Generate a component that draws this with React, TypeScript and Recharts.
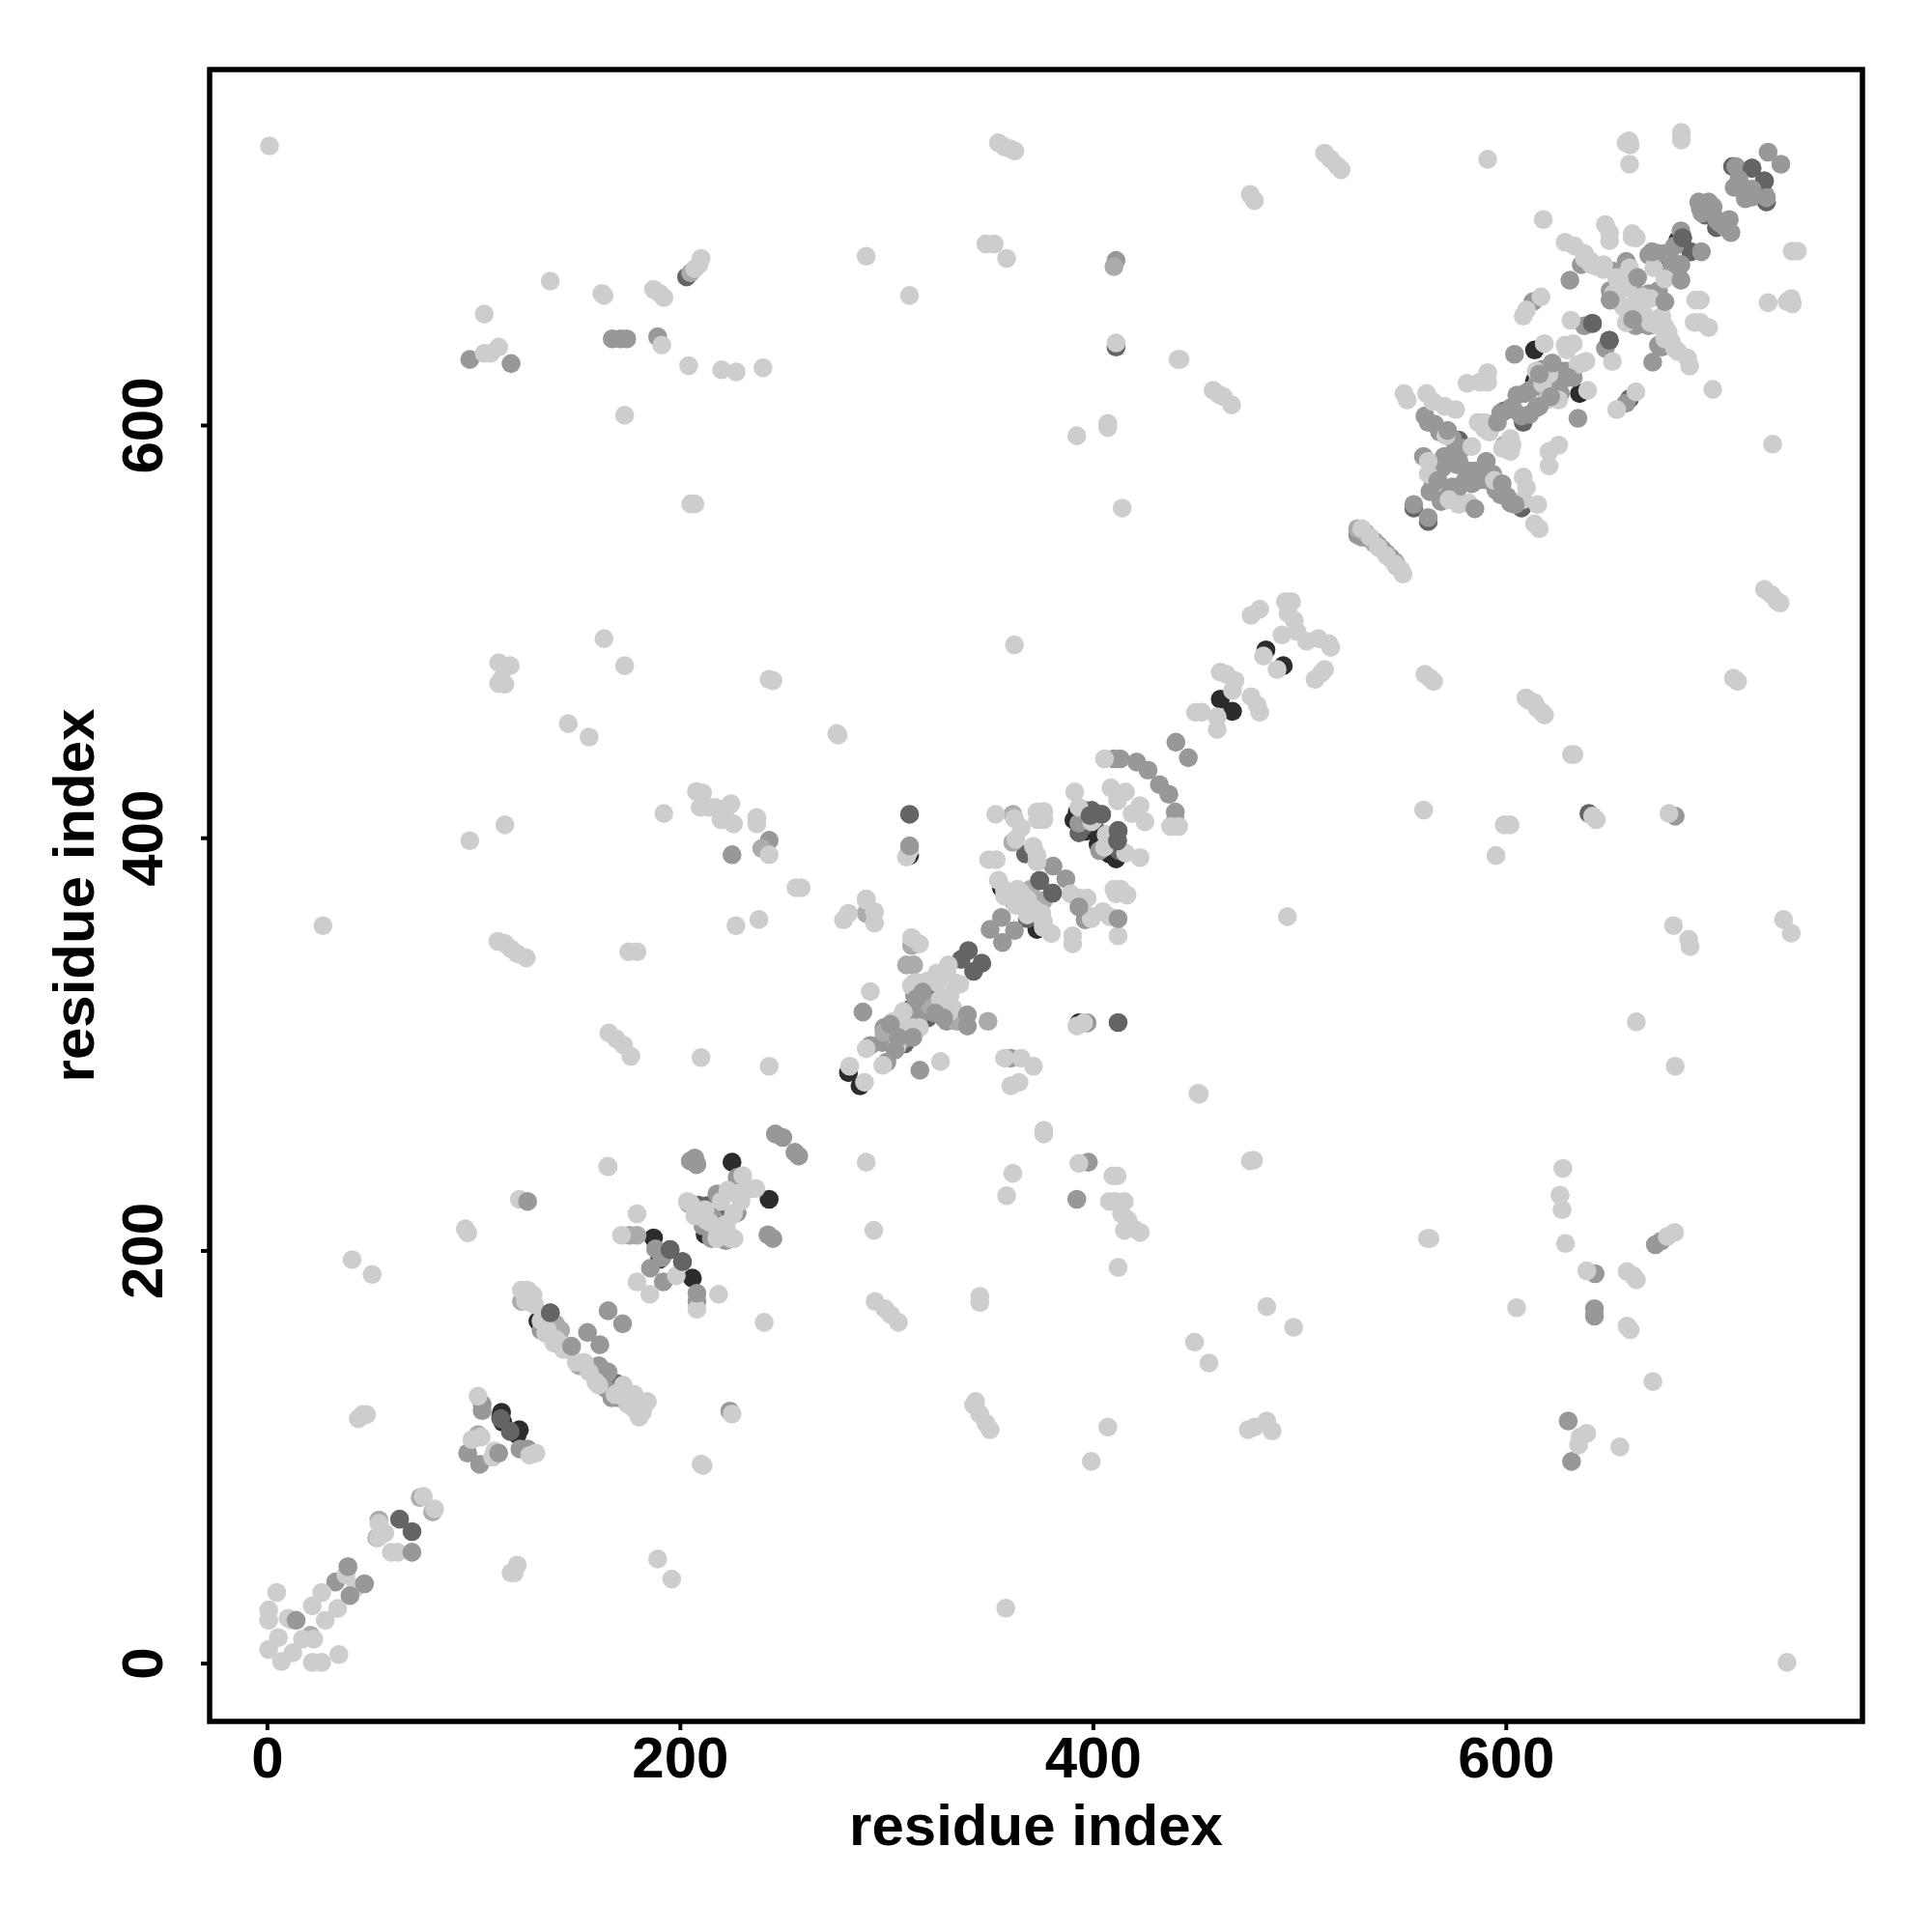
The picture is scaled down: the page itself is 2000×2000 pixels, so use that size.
import React from "react";
import { ScatterChart, Scatter, XAxis, YAxis, ReferenceArea } from "recharts";

const tickValues = [0, 200, 400, 600];
const axisTitle = "residue index";

const blackPairs: number[][] = [
  [113.4,121.8],[113,120],[114,117],[122,113.3],[121,111],[131,166],[165,135.8],[187,206.3],[205.8,186.8],[190,196],[225,243],[243,225],
  [281.4,286.4],[287,280],[311,391.7],[355.5,376],[372.7,355.8],[393,310.5],[394.5,411],[398.4,404],[392,409],[404.6,398],[407.8,392.4],[411,390],
  [483.6,491.3],[492,483.6],[613.7,636.6],[613.7,621.7],[635.5,615.5],[683,689.6],[673.7,680],[461.5,467.4],[467.4,461.5],[212,208],
  [392.2,412.7],[395.3,413.5],[390.6,408.8],[396,403.4],[401.5,403.4],[402.3,397.1],[409.3,394],[405.4,394],
];
const darkPairs: number[][] = [
  [64,70],[70,64],[113,118.7],[117.6,112.5],[137,170],[195,200.6],[201,194.8],[169,135.8],[218,208],[213,222],[208.7,222.2],[217.7,223.1],[223,216.8],
  [311,411.6],[339.5,345.6],[336,341.3],[346,339.4],[342,335.5],[308.7,300.4],[311.9,317.6],[320.4,327],[325.6,320.4],[319.7,312.9],
  [374,379.5],[380.2,373.4],[361.8,369],[368,361],[367.2,392.4],[398.4,411],[404,411.6],[399.2,413.5],[394.5,405],[393,402.6],[407,397.1],[412.4,394],[412,403.7],[411.7,398.7],[412,310.7],
  [685.4,691],[689.3,684.2],[678.4,674.8],[641.7,649.5],[649.9,641.3],[719,724.7],[725,718.5],[709.6,725.5],[726,708.3],[625.4,617],[598.9,607],[608.2,601.5],
  [577,592.9],[588,575],[555.2,560],[562.2,553.5],[607.4,560],[696.3,702],[701.8,695.9],[659.7,613],[640,412],[411,638],[203,672],
];
const midPairs: number[][] = [
  [98,632],[118,630],[167,642],[171,642],[174,642],[189,643],[411,680],[33,39.6],[104,125.7],[104,122.6],[97,102],[102.8,96.6],[122.3,104],[126,104],
  [155,160.5],[161,154.5],[165,171],[172,164.7],[160.5,144.4],[163.7,139.7],[166.8,128.8],[207,245],[208,242],[191.7,185],[185.5,191.7],[188,201],[191,196.7],[208,175.6],
  [146.5,152.2],[165,141.3],[163.7,133.5],[170,128.8],[132.5,161.6],
  [204.8,243.6],[207.8,241.8],[246,256.7],[249.6,255],[255.5,247.8],[257.3,246],[242.4,207.8],[244.8,206],[204,223],[210,220],[216,216],[211,212],[216,210],[222,205],[226,218],[219.7,225.7],[224,122.4],[225,392],[243,399],
  [207,220.4],[210.5,217],[217.7,227.6],[227.5,218.6],[216,213.3],[219.5,209.7],[215,206],[227.5,235.6],
  [288.4,315.8],[292,299.6],[300,291.5],[316,287.6],[305,306],
  [313.4,323.8],[315.8,320.7],[318,322.2],[318.9,317.6],[321.2,316],[323.6,319.9],[316.5,316],[315,311.3],[310.3,306.6],[307.2,302],[304,302],[301,305],[297.8,301],[302.5,308.2],[298.6,308.2],[325.9,317.6],[329,311.3],
  [380.5,386.5],[386.7,380.3],[355.5,361.6],[350,355.8],[361.8,355.3],[356,349.5],[397,310.5],[392,225],[397.6,243],[360,293.4],
  [421,436.9],[426.5,433],[432,426],[436.6,421.3],[446,439],[440,446.5],[439.7,412.7],[439.7,408.8],[396,360.5],[393,407.3],[403,394],[410,438.5],[413,438.5],
  [528,547],[530,546],[532,546],[534,545],[536,544],[538,542],[540,540],[542,538],[544,536],[546,534],[547,532],
  [726.8,732.5],[733,726.6],[711.2,725.5],[710.4,715.4],[715.8,709.9],[722,713.8],[693.2,708.3],[698,708.3],[700.2,706],[706,696],
  [714.3,715.4],[715.8,712.2],[719,710.7],[725.2,712.2],[694,705.2],[694.8,702.9],[701.8,699.8],[703.4,698.2],[708,699.8],
  [684.6,694.3],[681.5,687],[630.8,670.4],[636.3,678],[652,674.8],[675.3,638],[670.9,630.7],[637.8,648.3],[648,637.4],
  [650.3,665.4],[658.1,679.5],[661.2,667],[669,663.9],[673.7,665.4],[662.8,648.3],[669,648.3],[673.7,638.9],[669,682.6],[673.7,683.4],[680,679.5],[683.1,673.2],[680,674.8],
  [612.9,660],[604,634.5],[634.7,603.5],[658,610.8],[560.6,604.6],[565.3,600.7],[575.5,590.5],
  [617.6,627.2],[615.2,621.7],[619.1,617],[623.8,621.7],[626.2,615.5],[628.5,626.4],[632.4,623.3],[605.1,614.7],[611.3,617],[603.5,607.7],[597.3,606.1],[607.4,604.6],[611.3,605.4],[614.5,608.5],[592.6,600.7],
  [562.2,601.5],[567.7,596.8],[573.9,593.7],[578.6,589],[570,585],[573.9,585.9],[577,582.7],[581.7,578],[584.8,578],[586.4,573.4],[591,573.4],[595,568.7],[597.3,566.4],[602,562.5],[569.2,579.6],[564.5,571.8],[566.1,576.5],[573.9,570.3],[580.1,573.4],[571.6,565.6],
  [559.9,585],[572.3,582],[576.2,581],[593.4,576.5],[583.3,571.8],[563,568],[576.2,568.7],[568.4,563.2],[555.2,561.7],[562.2,555.4],[681.8,410.7],[643,189],[642.7,172],[642.7,168.4],[630,117.6],[631.6,98],[672.2,203],[675,204.8],
];
const palePairs: number[][] = [
  [20.9,13.7],[54,69.6],[53,61],[74,80.5],[80,73.5],[102,111],[123,175.6],[139.5,164.7],[142,161.6],[151,144.4],[175.4,207.6],[179,207.6],
  [290,363.6],[312,348],[309.5,338.6],[313,338.6],[298.6,305.9],[321,319],[333.7,311.3],[349,311.3],[361,411.6],[361,398],[369.6,375.3],[375.8,369.8],[410,677],[205,674],
  [528,550],[532,548],[536,543],[599,590.5],[239.4,395],
];
const lightPairs: number[][] = [
  [1,735.5],[354,737],[357,735],[360,734],[362,733],[512,732],[515,729],[518,726],[520,724],[591,729],[476,712],[478,709],[659.4,738],[658,737],[660,736],[659.7,726.6],[684.8,742],[684.8,738.4],
  [617.9,699.8],[648,697.4],[650,693.5],[650,689.6],[661,693],[661,691.2],[663,691],[628.5,688.8],[633,687],[738.5,684.5],[741,684.5],[290,682],[348,688],[352,688],[358,681],[207,676],[210,681],[209,678],[311,663],[137,670],[105,654],
  [162,664],[163,663],[187,666],[190,664],[192,662],[191,639],[105,635],[108,635],[112,638],[204,629],[220,627],[227,626],[240,628],[173,605],[411,640],[441,632],[442,632],[458,617],[461,615],[463,614],[467,610],[392,595],[407,601],[407,599],[729,591],[700,617.5],[205,562],[207,562],[414,560],
  [738,661.5],[736,660],[738.5,659],[726.8,659.5],[691.7,660.8],[694,660.8],[691,650],[694,650],[698,647.5],[637.8,681],[641,678],[644,677],[647,675.6],[659.7,676.4],[654.2,670],[653.4,660.8],[658.9,667],[669.8,661.5],[662.8,660],[659,651.4],[667.5,653],[669.8,649.8],[676.8,648],[676.8,642],[681.5,637.4],[687.8,632.7],[688.8,628.8],[631.3,651],[651.4,631],[671.4,676.4],[676.8,671],
  [641,679.5],[647.2,677.9],[656.6,668.6],[655,665.4],[651.9,663.9],[656.6,657.6],[665.9,662.3],[664.4,656],[658.1,649.8],[662.8,653],[678.4,645.2],[673.7,648.3],[680,640.5],[683.1,635.8],[675.3,653],[659.7,674.8],[653.4,671.7],[637.8,683.4],
  [616.8,662.3],[609.8,656],[608.2,653],[618.4,639.7],[629.3,636.6],[637,630.3],[639.4,617],[589.5,601.5],[589.5,598.3],[602.8,590.5],[581,620.5],[587.2,621],[591,625.6],[591,621],[653.5,607.7],[662.8,616.3],[625.4,590.5],[620.7,587.4],[620.7,580.4],
  [620.7,624.9],[617.6,620.2],[614.5,626.4],[628.5,638.9],[632.4,639.7],[634.7,629.6],[638.6,631.1],[625.4,612.4],[619.9,612.4],[602,593.7],[602,587.4],[598.1,589],[586.4,601.5],[591.8,596.8],
  [550.5,615.5],[552,612.4],[561.4,615.5],[564.5,611.6],[570,609.3],[575.5,607.7],[583.3,589.8],[570.8,595],[562.2,582.7],[562.2,576.5],[594.2,573.4],[572.3,564],[577,561.7],[581.7,562.5],[608.2,575],[609.8,570],[608.2,564],[615.2,561.7],[613.7,552.3],[616,550],
  [530,550],[534,546],[538,541],[542,537],[546,533],[549,530],[550,528],
  [725,520.6],[728.5,518],[731,515],[732.6,514],[476.4,508],[480.6,511],[493,514.6],[496,514.6],[494.3,509],[497.3,505.6],[491.3,498.5],[498.5,500.3],[503.3,495.5],[509,496.7],[514,494.3],[515,492.5],[482.4,488.3],[489,481.8],[507.4,477],[510.4,480],[512,481.8],
  [710,477.6],[712,476],[560.6,479.4],[563,477.6],[564.8,476],[449.5,461],[452.5,461],[460,458.8],[460,452.7],[461.5,480.5],[464.5,479.4],[468.6,476.4],[467.4,471.6],[476.4,468.6],[479.4,464.5],[480.6,461],[609.5,468],[610.7,467],[613.7,465.7],[615,463],[617.3,461],[618.5,459.7],[631.6,440.6],[632.8,440.6],
  [112,485],[117.6,483.6],[113.4,477],[112,475],[115,474.6],[243,477],[244.8,476.4],[361.8,493.7],[163,496.7],[173,483.6],[145.7,455.5],[155.8,449],[275.8,450.7],[276.4,450],
  [405.4,438.5],[408.5,424.4],[415.6,422.4],[411.7,418.2],[422.6,415.8],[418.7,411.9],[425,408],[441.3,405.7],[437.4,405.7],[391,422.4],[393,415],[400.7,409.6],[399.2,408],[405.4,395.6],[406.2,401.8],[415.6,392.8],[422.6,390.6],[410,375.3],[413.2,375.3],[416.3,372.5],[411,373],[407.8,362],[412,352.7],[404.6,364.4],[399,362],[390,352.7],[390,348.8],
  [560,413.7],[599,406.5],[601.8,406.5],[595,391.6],[641.8,410.7],[643.6,409],[678.8,412],[681,357.6],[688.3,351],[689,347.5],[734.3,360.6],[738,354],[663,311],[681.8,289.5],[736,0.6],[494,362],
  [352.7,411.6],[361.8,409.6],[365,405],[362.5,399.5],[372.7,412.7],[376,413],[376,409],[373,409],[371,396],[372.7,391.7],[372.7,388.5],[349.3,389.6],[353,389.6],
  [354,379.6],[357,375],[363.3,375.3],[366.5,370.6],[375,363.6],[375.8,358],[379.7,353.8],[389,373],[393,371],[397,371],[399,361],[392,309],[395.3,310.5],[357,293.4],[365,293.4],[371,289.5],[360,280],[364,281.7],
  [357,372],[364.9,373.7],[362.5,367.5],[368,370.6],[371,366],[374.2,362.8],[368,362.8],[375.8,359.7],[375.8,356.6],
  [290,370.6],[281.4,363.6],[279,360.4],[294,364.4],[294,358.9],[312,351.9],[315.8,348.8],[313.4,330],[292,325.7],[326,291.8],[282,289.5],[289.2,281.7],[309.5,390.9],[311,394],[308,316],[303.3,311.3],[315.8,308.2],[324.3,330],[329,335.5],[335.3,329.3],[330.6,323.8],[330.6,316],[290,298],[298,290],
  [307.2,309.8],[312.6,308.2],[304.8,298.9],[325.9,322.2],[332,317.6],[319.7,330.8],[315,330],[311.9,328.5],[333,330],[329.8,338.6],[324.3,334.7],
  [192,412],[115,406.5],[98,398.8],[26.9,357.6],[207.8,422.7],[210.7,422],[209.6,415],[216.7,415],[222.7,415],[224.5,416.7],[219.7,409],[225.7,407],[213.7,415],[237,410],[237,407],[243,392],[256,376],[258.5,376],[238,360.6],[226.9,357.6],[290,370],
  [111.6,350],[115,349],[118,346.3],[121,344],[125.4,342],[175,345],[179,345],[165.4,305.6],[169,302.7],[172.5,299.7],[176,294.3],[210,293.7],[243,289.5],[450.7,276.4],[451.3,276],[376,256.7],[376,258.5],[164.8,241],[290,243],[361,237.6],[358,226.8],[393,242.4],[409.5,236.4],[411.5,236.4],[477.6,244],[476,243.6],
  [407.8,224],[410.7,224],[415,224],[413.7,218],[416.7,215],[419.7,210.7],[422.7,208.9],[415,210],[412,192],[563,206],[561.8,206],[627.4,240],[626,227],[627,220],[628.7,203.6],[678,207],[681.5,209],[639,190.4],[658.5,190],[661.5,188],[663,186],[605,172.5],[658.5,163.6],[660,161.8],[671,136.7],[639,111.6],[635.8,109.8],[635,106],[655,105],
  [484,173],[497,163],[449,155.8],[456,145.7],[407,114.6],[399,98],[475,113.4],[478,114.6],[484,117.6],[486.6,112.8],[342,125.4],[343,127],[345,121],[348,116.4],[350,113.4],[345,178],[345,175],[294.3,175.5],[299,172],[302,169],[305.6,165.4],[240.6,165.4],[210,96.7],[211,96],[225,121],[189,50.7],[195.8,41],[357.6,26.9],[41,195.8],[50.7,188.6],[293.7,210],
  [179,218],[171.5,207.6],[179,185],[185.2,179],[198,188],[208,171.7],[218.5,179],[233.4,230],[219.7,224],[228.6,228],[225.7,218],[205,223],[212,220],[207,217],[214,214],[218,209],[226,206],[222,213],
  [224,206.1],[223,229.4],[230.2,236.5],[236.5,230.3],[229.3,224],[224,228.5],[203.4,224],[212.3,215],[217.7,206],[222.2,211.5],
  [165,240.8],[122,225],[95.8,210.7],[97,208.7],[123,181],[126,181],[128.6,178.7],[125,175.6],[135.6,161.6],[140,157],[143.4,152.2],[153.5,146],[159,136.6],[172.3,135],[173,128.8],[179,127],[182.4,125],[177.7,123.3],[181.6,121.8],
  [129.3,174],[132.5,166.2],[134.8,160],[138.7,155.3],[145,153.8],[149.6,146],[155.9,141.3],[160.5,135],[168.3,130.4],[174.6,125.7],[177.7,130.4],[184,127],[180,119.4],
  [4.5,34.5],[0.6,26],[0.6,21],[10,22],[21.7,28],[26.3,34.5],[28,21],[34,26.7],[5.3,12.6],[0.6,6.9],[6.8,1],[12.3,5.3],[22.4,11.9],[21.7,0.6],[26.3,0.6],[34.6,4.4],[17,11.9],[11.5,21.2],[38,43],[42.7,36.8],[54,68],[53.6,61],[56.8,63.3],[60,54],[63,54],[75.5,81],[81,75],[119.5,44],[121,47.7],[118,44],[46,120.7],[44,118.7],[48,120.7],[102,129.6],[103.5,109.8],[99,108.6],[109,100],[110,103],[130,102],[127,101],
];
const topMidPairs: number[][] = [
  [13.9,21],[70,54],[47,38.7],[39,47],[40,33],[112,102],[126,224],[147.3,153.8],[663.6,671.7],[676.8,660],[694.5,684.2],[650.3,660.8],[661.2,651.4],[726,710.4],[719,714.6],[712.7,719.3],[706.5,699],[708.8,693.5],
  [684.6,678],[684.6,670.4],[670.6,684.2],[676.8,683.4],[616,609.3],[609,615.5],[622.3,630.3],[616,624.9],[630,623.3],[621.5,614],[602,608.5],[595.7,601.5],[571.6,597.6],[581.7,575],[598,571.8],[566.9,573.4],
  [590.3,582.7],[584.8,559.7],[600.4,565.6],[604.3,561.7],[339,314.4],[339,309],[314.2,322.2],[317.3,325.4],[323.6,315.2],[327.5,312.9],[305.6,303.5],[301.7,309.8],[304,297.3],[312.6,303.5],[208,179.5],[412,361],[393,366.7],[311,396.3],
];
const topDarkPairs: number[][] = [
  [685.4,691],[719,724.7],[725,718.5],[641.7,649.5],[649.9,641.3],[404,411.6],[412,403.7],[411.7,398.7],[398.4,411],[374,379.5],[380.2,373.4],[195,200.6],[201,194.8],[137,170],
];

const toPoints = (pairs: number[][]) => pairs.map(([x, y]) => ({ x, y }));

const Dot = (props: any) => <circle cx={props.cx} cy={props.cy} r={9.8} fill={props.fill} />;

const fontFamily = "'Liberation Sans', Arial, sans-serif";

const XTick = ({ x, y, payload }: any) => (
  <text x={x} y={y + 47} textAnchor="middle" fontFamily={fontFamily} fontWeight={700} fontSize={60} fill="#000">
    {payload.value}
  </text>
);
const YTick = ({ x, y, payload }: any) => (
  <text transform={`translate(${x - 38},${y}) rotate(-90)`} textAnchor="middle" fontFamily={fontFamily} fontWeight={700} fontSize={60} fill="#000">
    {payload.value}
  </text>
);

const series = [
  { name: "black", pairs: blackPairs, fill: "#2c2c2c" },
  { name: "dark", pairs: darkPairs.filter((p) => !topDarkPairs.includes(p)), fill: "#646464" },
  { name: "mid", pairs: midPairs, fill: "#989898" },
  { name: "pale", pairs: palePairs, fill: "#ababab" },
  { name: "light", pairs: lightPairs, fill: "#cdcdcd" },
  { name: "topDark", pairs: topDarkPairs, fill: "#646464" },
  { name: "topMid", pairs: topMidPairs, fill: "#989898" },
];

export default function App() {
  return (
    <div style={{ position: "absolute", left: 0, top: 0, width: 2000, height: 2000, background: "#fff" }}>
      <ScatterChart width={2000} height={2000} margin={{ top: 72, right: 72, bottom: 0, left: 0 }}>
        <XAxis
          type="number"
          dataKey="x"
          domain={[-28, 772.5]}
          allowDataOverflow
          ticks={tickValues}
          interval={0}
          height={218}
          axisLine={false}
          tickLine={{ stroke: "#000", strokeWidth: 4 }}
          tickSize={9}
          tick={<XTick />}
          label={{ value: axisTitle, position: "insideBottom", offset: 90, fontFamily, fontWeight: 700, fontSize: 60, fill: "#000" }}
        />
        <YAxis
          type="number"
          dataKey="y"
          domain={[-28, 772.5]}
          allowDataOverflow
          ticks={tickValues}
          interval={0}
          width={217}
          axisLine={false}
          tickLine={{ stroke: "#000", strokeWidth: 4 }}
          tickSize={9}
          tick={<YTick />}
          label={{ value: axisTitle, angle: -90, position: "insideLeft", offset: 76, dy: 0, fontFamily, fontWeight: 700, fontSize: 60, fill: "#000", style: { textAnchor: "middle" } }}
        />
        {series.map((s) => (
          <Scatter key={s.name} name={s.name} data={toPoints(s.pairs)} fill={s.fill} shape={<Dot />} isAnimationActive={false} />
        ))}
        <ReferenceArea x1={-28} x2={772.5} y1={-28} y2={772.5} fill="none" stroke="#000" strokeWidth={5.5} fillOpacity={0} ifOverflow="visible" />
      </ScatterChart>
    </div>
  );
}
